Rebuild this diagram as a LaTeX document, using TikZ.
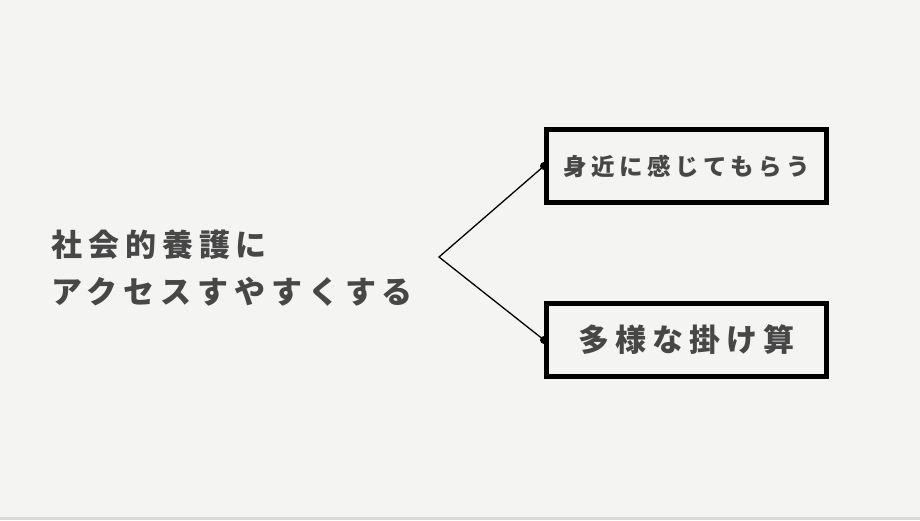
\documentclass[tikz,border=0pt]{standalone}
\usepackage{fontspec}
\newfontfamily\jp[LetterSpace=19]{Noto Sans CJK JP}
\usetikzlibrary{positioning}
\definecolor{bgcol}{HTML}{F4F4F2}
\definecolor{txtcol}{HTML}{474747}

\begin{document}
\begin{tikzpicture}[x=1pt, y=-1pt,
    choice/.style={draw, line width=5pt, minimum width=280pt, minimum height=73pt,
                   text=txtcol, inner sep=0pt},
    link/.style={line width=1.3pt},
]
\fill[bgcol] (0,0) rectangle (920,520);
\fill[black!15] (0,517) rectangle (920,520);

\node[anchor=west, align=left, text=txtcol, font=\jp\bfseries\fontsize{31}{47}\selectfont]
    (goal) at (48,268) {社会的養護に\\アクセスすやすくする};

\node[choice, font=\jp\bfseries\fontsize{23.5}{27}\selectfont] (near) at (686.5,166) {身近に感じてもらう};
\node[choice, font=\jp\bfseries\fontsize{31}{35}\selectfont] (mix) at (686.5,340) {多様な掛け算};

\coordinate (fork) at (439,257);
\draw[link] (near.west) -- (fork) -- (mix.west);
\fill (near.west) circle (4pt);
\fill (mix.west) circle (4pt);
\end{tikzpicture}
\end{document}
